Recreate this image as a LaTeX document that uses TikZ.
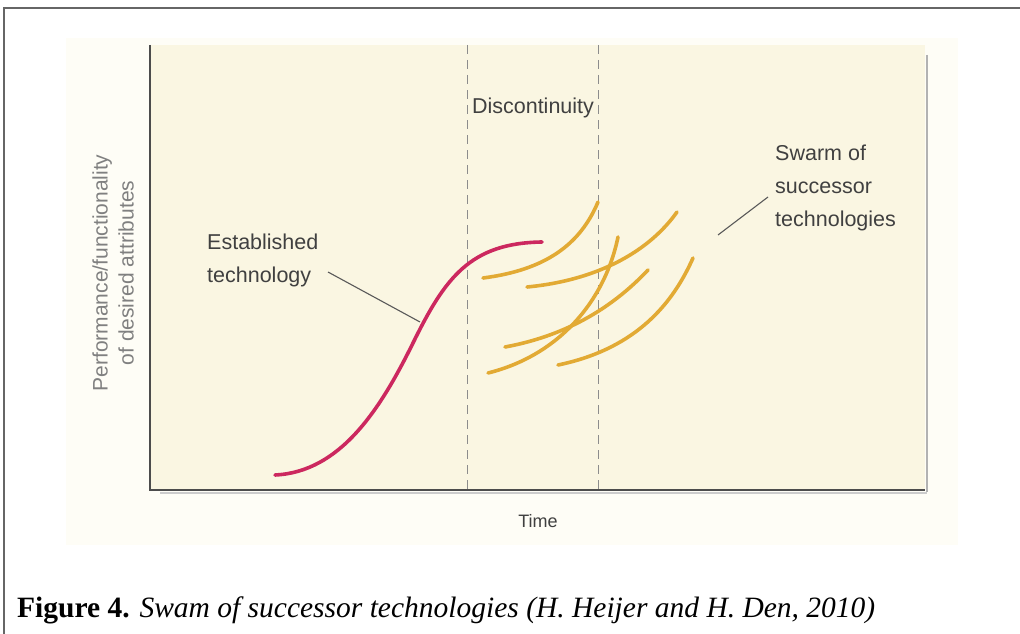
\documentclass[tikz,border=0pt]{standalone}
\usepackage{fontspec}
\setmainfont{Liberation Serif}
\newfontfamily\lblfont{Liberation Sans}
\begin{document}
\begin{tikzpicture}[x=1pt,y=-1pt,
  lbl/.style={font=\lblfont\fontsize{21.5}{33}\selectfont, text=black!75, inner sep=0pt, align=left},
  axlbl/.style={font=\lblfont\fontsize{21}{26}\selectfont, text=black!50, inner sep=0pt, align=center},
  leader/.style={draw=black!65, line width=1.1pt},
  oldtech/.style={draw=pinkc, line width=3.6pt, line cap=round},
  newtech/.style={draw=yellowc, line width=3.6pt, line cap=round},
  divider/.style={draw=black!45, line width=1pt, dash pattern=on 9pt off 6pt}]
\definecolor{pinkc}{RGB}{204,40,95}
\definecolor{yellowc}{RGB}{226,170,52}
\definecolor{creamA}{RGB}{254,253,246}
\definecolor{creamB}{RGB}{250,246,226}
\useasboundingbox (0,0) rectangle (1020,634);
% outer frame
\draw[black!60, line width=1.3pt] (4,634) -- (4,8) -- (1020,8);
% backgrounds
\fill[creamA] (66,38) rectangle (958,545);
\fill[creamB] (150,45) rectangle (925,490);
\draw[black!30, line width=2.5pt] (927,55) -- (927,492);
\draw[black!20, line width=2pt] (160,493) -- (927,493);
% axes
\draw[black!70, line width=1.6pt] (150,45) -- (150,490) -- (925,490);
% dividers
\coordinate (d1t) at (467,45); \coordinate (d1b) at (467,490);
\coordinate (d2t) at (598,45); \coordinate (d2b) at (598,490);
\draw[divider] (d1t) -- (d1b);
\draw[divider] (d2t) -- (d2b);
% established technology
\draw[oldtech] (275,475) .. controls (340,472) and (380,410) .. (413,343) .. controls (445,278) and (470,243) .. (542,242);
% swarm
\draw[newtech] (483,278) .. controls (545,270) and (580,245) .. (598,202);
\draw[newtech] (527,287) .. controls (600,280) and (650,250) .. (677,212);
\draw[newtech] (505,347) .. controls (570,335) and (615,305) .. (648,270);
\draw[newtech] (488,373) .. controls (560,355) and (605,300) .. (618,237);
\draw[newtech] (558,365) .. controls (630,350) and (670,310) .. (693,258);
% labels
\node[lbl, anchor=north west] (est) at (207,234) {Established\\technology};
\coordinate (estp) at (420,322);
\draw[leader] (328,272) -- (estp);
\node[lbl, anchor=north west] (swarm) at (775,145) {Swarm of\\successor\\technologies};
\coordinate (swp) at (718,235);
\draw[leader] (768,197) -- (swp);
\node[lbl, anchor=center] (disc) at (533,108) {Discontinuity};
\node[lbl, anchor=center, font=\lblfont\fontsize{18}{20}\selectfont] (time) at (538,521) {Time};
\node[axlbl, rotate=90, anchor=center] (ylab) at (113,273) {Performance/functionality\\of desired attributes};
% caption
\node[anchor=base west, inner sep=0pt, font=\fontsize{29.5}{34}\selectfont] (cap) at (17,617) {\textbf{Figure 4.} \textit{Swam of successor technologies (H. Heijer and H. Den, 2010)}};
\end{tikzpicture}
\end{document}
